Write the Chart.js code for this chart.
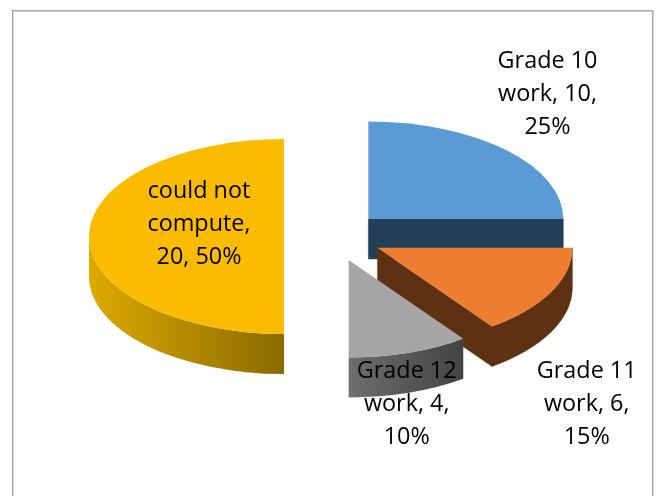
<!DOCTYPE html>
<html>
<head>
<meta charset="utf-8">
<style>html,body{margin:0;padding:0;background:#fff}canvas{display:block}</style>
<script src="https://cdn.jsdelivr.net/npm/chart.js@4/dist/chart.umd.min.js"></script>
</head>
<body>
<canvas id="c" width="656" height="496"></canvas>
<script>
const categories = ['Grade 10 work', 'Grade 11 work', 'Grade 12 work', 'could not compute'];
const values = [10, 6, 4, 20];
const percents = ['25%', '15%', '10%', '50%'];
const labelLines = [
  ['Grade 10', 'work, 10,', '25%'],
  ['Grade 11', 'work, 6,', '15%'],
  ['Grade 12', 'work, 4,', '10%'],
  ['could not', 'compute,', '20, 50%']
];
const topColors = ['#5b9bd5', '#ed7d31', '#a5a5a5', '#fbbc00'];
const wallFrom = ['#243f58', '#5f3113', '#6e6e6e', '#dcaa00'];
const wallTo = ['#243f58', '#5f3113', '#434343', '#8a6a00'];

const RADIUS = 97.5, STRETCH = 2, EXPLODE = 24.7, DEPTH = 40;
const labelAnchor = [[547.5, 68], [586.7, 378], [406.7, 378], [199, 198]];
const LINE_HEIGHT = 32.8;

const pie3d = {
  id: 'pie3d',
  beforeDatasetDraw(chart) {
    const ctx = chart.ctx;
    const arcs = chart.getDatasetMeta(0).data;
    const geo = arcs.map(arc => {
      const a0 = arc.startAngle, a1 = arc.endAngle, mid = (a0 + a1) / 2;
      const cx = arc.x + STRETCH * EXPLODE * Math.cos(mid);
      const cy = arc.y + EXPLODE * Math.sin(mid);
      return {arc, a0, a1, cx, cy, rx: STRETCH * arc.outerRadius, ry: arc.outerRadius};
    });
    // side walls: outer rim and visible cut faces share one path, so no seam shows
    geo.forEach((g, i) => {
      const minX = g.cx + g.rx * Math.min(0, Math.cos(g.a0), Math.cos(g.a1), (g.a0 < Math.PI && g.a1 > Math.PI) ? -1 : 0);
      const maxX = g.cx + g.rx * Math.max(0, Math.cos(g.a0), Math.cos(g.a1), (g.a0 < 0 && g.a1 > 0) ? 1 : 0);
      const grad = ctx.createLinearGradient(minX, 0, maxX, 0);
      grad.addColorStop(0, wallFrom[i]);
      grad.addColorStop(1, wallTo[i]);
      ctx.fillStyle = grad;
      ctx.beginPath();
      const s = Math.max(g.a0, 0), e = Math.min(g.a1, Math.PI);
      if (e > s) {
        ctx.ellipse(g.cx, g.cy, g.rx, g.ry, 0, s, e);
        ctx.ellipse(g.cx, g.cy + DEPTH, g.rx, g.ry, 0, e, s, true);
        ctx.closePath();
      }
      const face = a => {
        const px = g.cx + g.rx * Math.cos(a), py = g.cy + g.ry * Math.sin(a);
        ctx.moveTo(g.cx, g.cy);
        ctx.lineTo(px, py);
        ctx.lineTo(px, py + DEPTH);
        ctx.lineTo(g.cx, g.cy + DEPTH);
        ctx.closePath();
      };
      if (Math.cos(g.a1) > 1e-6) face(g.a1);
      if (Math.cos(g.a0) < -1e-6) face(g.a0);
      ctx.fill();
      if (wallFrom[i] === wallTo[i]) {
        ctx.strokeStyle = wallFrom[i];
        ctx.lineWidth = 0.4;
        ctx.stroke();
      }
    });
    // top faces, drawn by the library's arc element
    geo.forEach(g => {
      ctx.save();
      ctx.translate(g.cx, g.cy);
      ctx.scale(STRETCH, 1);
      ctx.translate(-g.arc.x, -g.arc.y);
      g.arc.draw(ctx);
      ctx.restore();
    });
    return false;
  },
  afterDraw(chart) {
    const ctx = chart.ctx;
    ctx.save();
    ctx.strokeStyle = '#a6a6a6';
    ctx.lineWidth = 1.5;
    ctx.beginPath();
    ctx.moveTo(12.7, 500);
    ctx.lineTo(12.7, 10.7);
    ctx.lineTo(652.7, 10.7);
    ctx.lineTo(652.7, 500);
    ctx.stroke();
    ctx.fillStyle = '#000';
    ctx.font = '23.4px "Open Sans"';
    ctx.textAlign = 'center';
    ctx.textBaseline = 'alphabetic';
    labelLines.forEach((lines, i) => {
      lines.forEach((t, j) => ctx.fillText(t, labelAnchor[i][0], labelAnchor[i][1] + j * LINE_HEIGHT));
    });
    ctx.restore();
  }
};

new Chart(document.getElementById('c'), {
  type: 'pie',
  data: {
    labels: categories,
    datasets: [{data: values, backgroundColor: topColors, borderWidth: 0}]
  },
  options: {
    responsive: false,
    animation: false,
    radius: RADIUS,
    layout: {padding: {left: 10.8, right: 0, top: 0, bottom: 23}},
    plugins: {legend: {display: false}, tooltip: {enabled: false}}
  },
  plugins: [pie3d]
});
</script>
</body>
</html>
